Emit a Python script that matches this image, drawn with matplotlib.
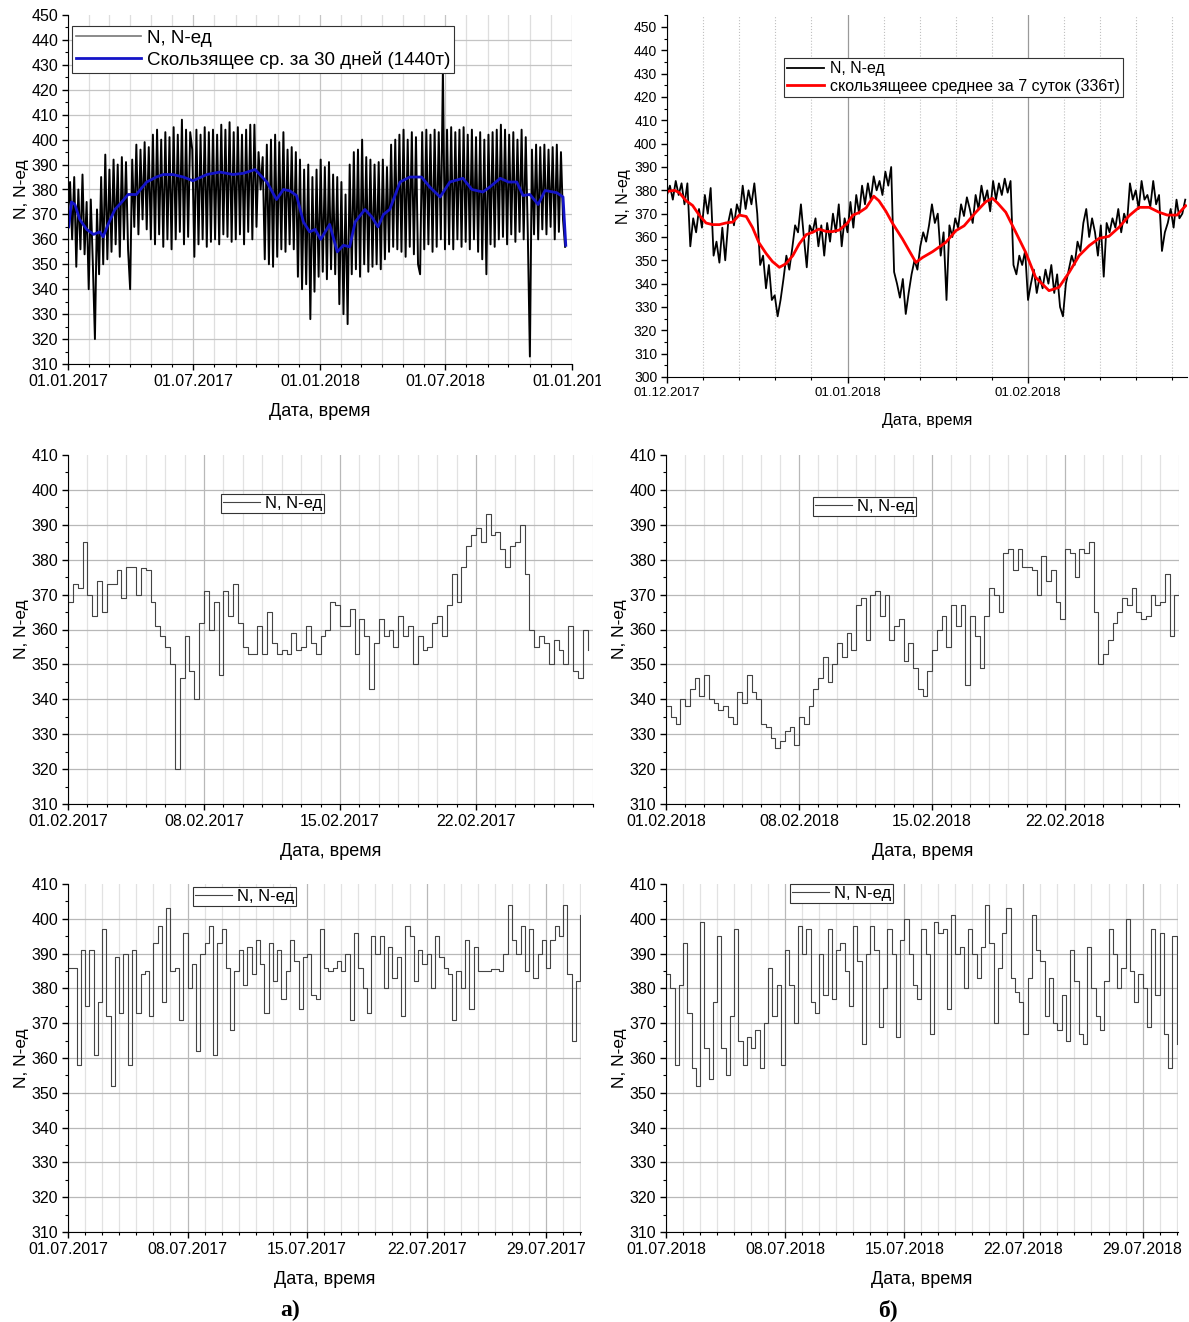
import numpy as np
import matplotlib
matplotlib.use('Agg')
import matplotlib.pyplot as plt
import matplotlib.dates as mdates
from matplotlib.ticker import MultipleLocator, FixedLocator
from matplotlib.transforms import Bbox, TransformedBbox

plt.rcParams['font.family'] = ['Liberation Sans', 'DejaVu Sans']

# --- a) top: 01.01.2017 - 12.2018, one value every 3 days (read off the band) ---
a_start = np.datetime64('2017-01-01')
a_n = [370, 383, 360, 385, 349, 380, 356, 386, 354, 375,
       340, 376, 350, 320, 372, 346, 385, 350, 394, 352,
       388, 355, 392, 358, 390, 353, 393, 360, 391, 356,
       340, 392, 365, 398, 362, 396, 368, 399, 364, 397,
       360, 402, 358, 404, 362, 400, 357, 403, 360, 401,
       356, 405, 360, 402, 363, 408, 358, 404, 361, 403,
       396, 353, 404, 358, 402, 360, 405, 357, 403, 359,
       404, 360, 402, 358, 406, 362, 404, 361, 407, 359,
       403, 360, 405, 362, 402, 358, 404, 363, 406, 360,
       406, 365, 395, 380, 393, 352, 398, 350, 400, 349,
       402, 353, 399, 356, 403, 355, 396, 358, 397, 356,
       395, 345, 392, 340, 388, 342, 390, 328, 385, 339,
       388, 345, 392, 347, 389, 344, 391, 348, 386, 346,
       385, 334, 383, 330, 378, 326, 390, 346, 395, 348,
       396, 345, 400, 350, 393, 347, 392, 349, 390, 350,
       391, 348, 392, 352, 389, 355, 398, 357, 400, 356,
       402, 355, 404, 353, 400, 357, 403, 354, 401, 350,
       346, 403, 356, 404, 358, 402, 355, 404, 357, 403,
       360, 428, 356, 404, 358, 405, 356, 403, 360, 404,
       357, 405, 359, 402, 356, 404, 360, 401, 355, 403,
       352, 400, 346, 402, 358, 403, 357, 404, 360, 406,
       361, 404, 358, 402, 362, 403, 359, 400, 363, 404,
       360, 401, 362, 313, 396, 362, 398, 360, 397, 364,
       398, 362, 396, 365, 397, 360, 398, 363, 395, 368,
       357]
a_ma_days = [1, 5, 10, 17, 27, 37, 46, 51, 58, 68,
             78, 87, 99, 114, 128, 138, 152, 167, 181, 201,
             220, 239, 254, 271, 288, 302, 312, 321, 331, 341,
             350, 358, 366, 379, 390, 399, 408, 416, 430, 440,
             449, 457, 466, 481, 495, 512, 524, 539, 553, 572,
             585, 601, 611, 626, 638, 650, 659, 669, 681, 691,
             708, 717, 721]
a_ma = [365, 375, 374, 368, 364, 362, 363, 361, 366, 372,
        375, 378, 378, 383, 385, 386, 386, 385, 383.5, 386,
        387, 386, 386.5, 388, 383, 376, 380, 379.5, 377.6, 367,
        363, 364, 360, 366, 355, 357.6, 357, 367, 372, 369,
        365, 370, 372, 383, 385, 385, 381, 377, 383, 384.5,
        380, 379, 381, 384.5, 383, 383, 377.6, 378, 374, 379.6,
        378.7, 377, 357.6]

# --- top right: 01.12.2017 - 28.02.2018, one value every 12 h ---
b_start = np.datetime64('2017-12-01T00')
b_n = [378, 382, 376, 384, 378, 383, 374, 383, 356, 368, 362, 372, 364, 378, 370, 381, 352, 358, 349, 364,
       350, 366, 372, 365, 374, 370, 382, 372, 380, 374, 383, 370, 348, 352, 338, 348, 333, 335, 326, 333,
       342, 352, 346, 355, 365, 362, 374, 360, 347, 365, 362, 368, 356, 365, 352, 366, 358, 370, 362, 374,
       356, 368, 362, 375, 364, 378, 370, 382, 374, 383, 376, 386, 380, 384, 378, 388, 382, 390, 345, 340,
       334, 342, 327, 336, 344, 350, 346, 356, 362, 358, 365, 374, 366, 370, 352, 362, 333, 365, 360, 368,
       364, 374, 369, 377, 372, 366, 378, 372, 382, 375, 380, 371, 384, 376, 383, 378, 385, 379, 384, 348,
       344, 352, 348, 354, 333, 340, 346, 336, 343, 338, 346, 340, 348, 336, 344, 330, 326, 340, 346, 352,
       348, 358, 354, 366, 372, 360, 368, 362, 352, 365, 343, 366, 362, 368, 364, 372, 362, 370, 366, 383,
       376, 380, 372, 384, 376, 378, 373, 384, 374, 378, 354, 362, 366, 372, 364, 376, 368, 370, 376]
b_ma_days = [0, 1.3, 2.1, 3.3, 4.4, 5.5, 6.7, 7.8, 9.0, 10.1, 11.3, 12.4, 13.6, 14.7, 15.8, 17.0,
             18.1, 19.3, 20.4, 21.6, 22.7, 23.9, 25.0, 26.1, 27.3, 28.4, 29.6, 31.0, 31.9, 33.0,
             34.2, 35.5, 36.4, 37.6, 38.7, 40.45, 42.74, 43.88, 45.6, 47.88, 49.6, 51.03, 53.03,
             54.74, 55.89, 56.75, 58.18, 59.9, 61.6, 63.3, 65.6, 67.3, 69.05, 70.77, 72.5, 74.2,
             75.9, 77.6, 79.36, 81.07, 82.8, 84.5, 85.9, 87.6, 89.08]
b_ma = [379.5, 380, 379, 375.5, 373.5, 369.5, 366, 365.3, 365.3, 366, 366.4, 369.4, 368.8, 364, 357.5, 353,
        349.5, 347, 348.5, 352, 357, 361, 362, 363.4, 362.4, 362.3, 363, 366, 369.3, 370.5,
        372.5, 377.5, 375.5, 371, 366, 359.1, 349.1, 351.2, 353.7, 357.7, 362.7, 364.8, 370.6,
        375.1, 376.6, 374.6, 370.6, 362, 353.4, 342.7, 337, 338.4, 344.8, 352, 356.3, 359.4,
        360.3, 364.1, 369.1, 372.7, 372.7, 370.6, 369.4, 369.4, 373.4]

# --- February and July panels, one value every 6 h ---
c_n = [368, 373, 372, 385, 370, 364, 374, 365, 373, 373, 377, 369, 378, 378, 370, 377.5,
       377, 368, 361, 358, 355, 350, 320, 346, 358, 348, 340, 362, 371, 360, 368, 347,
       371, 364, 373, 362, 355, 353, 353, 361, 353, 365, 356, 353, 354, 353, 359, 354,
       355, 361, 356, 353, 358, 360, 368, 367, 361, 361, 366, 353, 363, 358, 343, 356,
       363, 358, 360, 355, 364, 358, 361, 350, 358, 354, 355, 362, 364, 358, 367, 376,
       368, 378, 384, 387, 389, 385, 393, 387, 388, 383, 378, 384, 385, 390, 376, 360,
       355, 358, 356, 350, 357, 354, 350, 361, 348, 346, 360, 354]
d_n = [338, 335, 333, 340, 338, 343, 346, 341, 347, 340, 339, 337, 338, 335, 333, 342,
       339, 347, 342, 340, 333, 332, 329, 326, 328, 331, 332, 327, 335, 333, 338, 343,
       346, 352, 345, 350, 356, 352, 359, 354, 367, 369, 357, 370, 371, 364, 370, 357,
       361, 363, 351, 356, 349, 343, 341, 348, 354, 360, 364, 355, 367, 361, 367, 344,
       364, 358, 349, 364, 372, 370, 365, 382, 383, 377, 383, 378, 378, 377, 370, 381,
       374, 377, 368, 363, 383, 382, 375, 383, 382, 385, 365, 350, 353, 357, 362, 365,
       369, 367, 372, 365, 363, 364, 370, 367, 368, 376, 358, 370, 371]
e_n = [386, 386, 358, 391, 375, 391, 361, 376, 397, 372, 352, 389, 373, 390, 358, 391,
       373, 384, 385, 372, 393, 398, 376, 403, 385, 386, 371, 396, 380, 387, 362, 390,
       393, 398, 361, 393, 397, 386, 368, 385, 391, 381, 392, 384, 394, 387, 373, 393,
       382, 391, 377, 385, 394, 388, 374, 389, 390, 378, 377, 397, 386, 385, 386, 388,
       385, 390, 371, 396, 386, 380, 373, 395, 390, 395, 380, 392, 383, 389, 372, 398,
       395, 382, 391, 387, 390, 380, 395, 389, 386, 384, 371, 385, 380, 394, 374, 392,
       385, 385, 385, 385.5, 385.5, 385, 390, 404, 394, 390, 398, 385, 397, 383, 390, 394,
       386, 394, 398, 395, 404, 384, 365, 382, 401]
f_n = [384, 380, 358, 381, 393, 373, 357, 352, 399, 363, 354, 376, 395, 363, 355, 372,
       397, 365, 358, 366, 363, 368, 357, 370, 386, 372, 381, 358, 391, 381, 370, 398,
       390, 397, 376, 373, 390, 378, 397, 377, 391, 393, 385, 375, 398, 388, 364, 390,
       398, 391, 369, 380, 397, 390, 366, 394, 400, 390, 381, 377, 397, 390, 367, 399,
       396, 397, 374, 401, 390, 392, 380, 397, 390, 383, 392, 404, 393, 370, 386, 396,
       403, 383, 379, 376, 367, 383, 401, 391, 388, 372, 383, 370, 368, 378, 365, 391,
       382, 367, 364, 392, 380, 372, 368, 382, 397, 390, 380, 386, 400, 385, 376, 384,
       380, 369, 397, 378, 396, 367, 357, 395, 364]

W, H = 1189, 1322
fig = plt.figure(figsize=(W / 100, H / 100), dpi=100)


def rect(l, t, r, b):
    return [l / W, 1 - b / H, (r - l) / W, (b - t) / H]


def base(ax, y0, y1, ytop, lsize=11.5):
    for s in ('top', 'right'):
        ax.spines[s].set_visible(False)
    ax.set_ylim(y0, y1)
    ax.set_yticks(np.arange(y0, ytop + 1, 10))
    ax.yaxis.set_minor_locator(MultipleLocator(5))
    ax.tick_params(which='major', direction='out', length=4.5, width=1, pad=2.5, labelsize=lsize)
    ax.tick_params(which='minor', direction='out', length=2.5, width=0.8)
    ax.set_axisbelow(True)
    ax.set_xlabel('Дата, время', fontsize=13, labelpad=10)
    ax.set_ylabel('N, N-ед', fontsize=12.5, labelpad=2)


def hide_top_grid(ax):
    ax.yaxis.get_major_ticks()[-1].gridline.set_visible(False)


def small_legend(ax, x, y):
    lg = ax.legend(loc='upper left', bbox_to_anchor=(x, y), fontsize=12, fancybox=False,
                   edgecolor='#333333', framealpha=1, borderpad=0.12, handlelength=2.2,
                   handletextpad=0.3, borderaxespad=0)
    lg.get_frame().set_linewidth(0.8)


# ---------------- a) top left ----------------
axA = fig.add_axes(rect(68, 15, 572, 364))
xa = a_start + np.arange(len(a_n)) * np.timedelta64(3, 'D')
xa_ma = a_start + np.array(a_ma_days) * np.timedelta64(1, 'D')
axA.plot(xa, a_n, color='black', lw=1.4, label='N, N-ед')
axA.plot(xa_ma, a_ma, color='#1414c8', lw=2, label='Скользящее ср. за 30 дней (1440т)')
base(axA, 310, 450, 450)
axA.set_xlim(np.datetime64('2017-01-01'), np.datetime64('2019-01-01'))
axA.xaxis.set_major_locator(mdates.MonthLocator(bymonth=[1, 7]))
axA.xaxis.set_minor_locator(mdates.MonthLocator())
axA.xaxis.set_major_formatter(mdates.DateFormatter('%d.%m.%Y'))
axA.grid(which='major', color='#c4c4c4', lw=0.9)
axA.grid(which='minor', axis='x', color='#dedede', lw=0.9)
hide_top_grid(axA)
lg = axA.legend(loc='upper left', bbox_to_anchor=(0.008, 0.968), fontsize=13.5, fancybox=False,
                edgecolor='#333333', framealpha=1, borderpad=0.2, labelspacing=0.2,
                handlelength=3.5, handletextpad=0.3, borderaxespad=0)
lg.get_frame().set_linewidth(0.8)
lg.get_lines()[0].set_color('#777777')
lg.get_lines()[0].set_linewidth(1.2)
last = axA.xaxis.get_major_ticks()[-1].label1
last.set_clip_on(True)
last.set_clip_box(TransformedBbox(Bbox.from_extents(0, 0, 601 / W, 1), fig.transFigure))

# ---------------- top right ----------------
axB = fig.add_axes(rect(667, 15.3, 1187, 377))
xb = b_start + np.arange(len(b_n)) * np.timedelta64(12, 'h')
xb_ma = b_start + np.round(np.array(b_ma_days) * 1440).astype(int) * np.timedelta64(1, 'm')
axB.plot(xb, b_n, color='black', lw=1.3, label='N, N-ед')
axB.plot(xb_ma, b_ma, color='#ff0000', lw=2, label='скользящеее среднее за 7 суток (336т)')
base(axB, 300, 455, 450, lsize=10)
axB.tick_params(axis='x', labelsize=9.5)
axB.set_xlabel('Дата, время', fontsize=11.5, labelpad=10)
axB.set_ylabel('N, N-ед', fontsize=11.5, labelpad=2)
b0 = mdates.date2num(b_start)
axB.set_xlim(b0, b0 + 89.3)
axB.xaxis.set_major_locator(mdates.MonthLocator())
axB.xaxis.set_minor_locator(FixedLocator(b0 + 6.2 * np.arange(1, 15)))
axB.xaxis.set_major_formatter(mdates.DateFormatter('%d.%m.%Y'))
axB.grid(which='major', axis='x', color='#9a9a9a', lw=0.9)
axB.grid(which='minor', axis='x', color='#c0c0c0', lw=0.8, ls=':')
lg = axB.legend(loc='upper left', bbox_to_anchor=(0.225, 0.882), fontsize=11.5, fancybox=False,
                edgecolor='#333333', framealpha=1, borderpad=0.2, labelspacing=0.15,
                handlelength=2.3, handletextpad=0.35, borderaxespad=0)
lg.get_frame().set_linewidth(0.8)

# ---------------- February / July panels ----------------
panels = [
    (rect(68, 455, 592.6, 804), '2017-02-01', c_n, 27 * 24, [1, 8, 15, 22], (0.292, 0.888)),
    (rect(666, 455, 1179, 804), '2018-02-01', d_n, 27 * 24, [1, 8, 15, 22], (0.287, 0.880)),
    (rect(68, 884, 581, 1232), '2017-07-01', e_n, 721, [1, 8, 15, 22, 29], (0.244, 0.991)),
    (rect(666, 884, 1178, 1232), '2018-07-01', f_n, 722, [1, 8, 15, 22, 29], (0.242, 1.0)),
]
for r, start, vals, hours, majors, lpos in panels:
    ax = fig.add_axes(r)
    t0 = np.datetime64(start + 'T00')
    x = t0 + np.arange(len(vals)) * np.timedelta64(6, 'h')
    ax.plot(x, vals, color='#444444', lw=0.8, drawstyle='steps-post', label='N, N-ед')
    base(ax, 310, 410, 410)
    ax.set_xlim(t0, t0 + np.timedelta64(hours, 'h'))
    ax.xaxis.set_major_locator(mdates.DayLocator(bymonthday=majors))
    ax.xaxis.set_minor_locator(mdates.DayLocator())
    ax.xaxis.set_major_formatter(mdates.DateFormatter('%d.%m.%Y'))
    ax.grid(which='major', color='#b8b8b8', lw=0.9)
    ax.grid(which='minor', axis='x', color='#e2e2e2', lw=0.9)
    hide_top_grid(ax)
    small_legend(ax, *lpos)

serif = ['Liberation Serif', 'DejaVu Serif']
fig.text(290 / W, 1 - 1310 / H, 'а)', ha='center', va='center', fontsize=17,
         fontweight='bold', family=serif)
fig.text(888 / W, 1 - 1310 / H, 'б)', ha='center', va='center', fontsize=17,
         fontweight='bold', family=serif)

fig.savefig('out.png', dpi=100)
